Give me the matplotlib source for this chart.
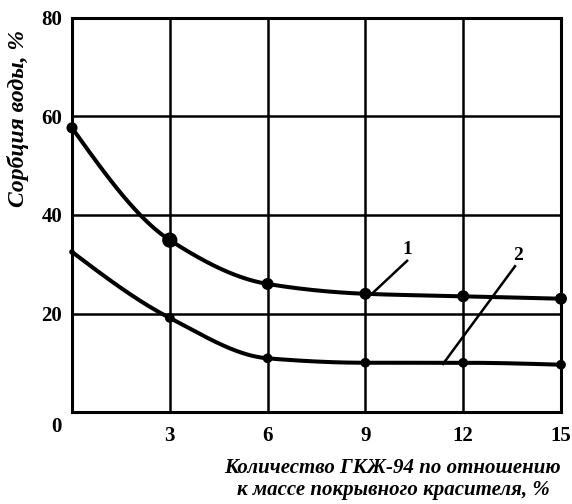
import numpy as np
import matplotlib.pyplot as plt

# data
x_pts = [0, 3, 6, 9, 12, 15]
curve1 = [57.7, 34.9, 26, 24, 23.5, 23]
curve2 = [32.5, 19.1, 10.9, 10, 10, 9.6]
x_ticks = [3, 6, 9, 12, 15]
y_ticks = [20, 40, 60, 80]


def pchip(x, y, xs):
    # monotone cubic, only for drawing a smooth line through the points
    x = np.asarray(x, float)
    y = np.asarray(y, float)
    h = np.diff(x)
    d = np.diff(y) / h
    m = np.zeros_like(y)
    for k in range(1, len(x) - 1):
        if d[k - 1] * d[k] > 0:
            w1 = 2 * h[k] + h[k - 1]
            w2 = h[k] + 2 * h[k - 1]
            m[k] = (w1 + w2) / (w1 / d[k - 1] + w2 / d[k])
    m[0] = d[0] * 1.5 - m[1] * 0.5
    m[-1] = d[-1] * 1.5 - m[-2] * 0.5
    idx = np.clip(np.searchsorted(x, xs) - 1, 0, len(x) - 2)
    t = (xs - x[idx]) / h[idx]
    h00 = 2 * t**3 - 3 * t**2 + 1
    h10 = t**3 - 2 * t**2 + t
    h01 = -2 * t**3 + 3 * t**2
    h11 = t**3 - t**2
    return h00 * y[idx] + h10 * h[idx] * m[idx] + h01 * y[idx + 1] + h11 * h[idx] * m[idx + 1]


plt.rcParams['font.family'] = 'Liberation Serif'
fig = plt.figure(figsize=(5.72, 5.04), dpi=100)
ax = fig.add_axes([72 / 572, 1 - 412 / 504, 489 / 572, 394 / 504])

xs = np.linspace(0, 15, 300)
ax.plot(xs, pchip(x_pts, curve1, xs), color='black', lw=2.9, zorder=3,
        solid_capstyle='round')
ax.plot(xs, pchip(x_pts, curve2, xs), color='black', lw=2.9, zorder=3,
        solid_capstyle='round')
sizes1 = [8, 11, 8.6, 8.6, 8.6, 8.6]
sizes2 = [4, 7, 7, 7, 7, 7]
ax.scatter(x_pts, curve1, s=[v**2 for v in sizes1], color='black', zorder=4,
           clip_on=False, linewidths=0)
ax.scatter(x_pts, curve2, s=[v**2 for v in sizes2], color='black', zorder=4,
           clip_on=False, linewidths=0)

# leader lines to curve numbers
ax.plot([9.23, 10.28], [24.2, 30.7], color='black', lw=1.8)
ax.text(10.28, 32.9, '1', ha='center', va='center', fontsize=14, fontweight='bold')
ax.plot([11.38, 13.59], [9.75, 29.6], color='black', lw=1.8)
ax.text(13.68, 31.8, '2', ha='center', va='center', fontsize=14, fontweight='bold')

ax.set_xlim(0, 15)
ax.set_ylim(0, 80)
ax.set_xticks(x_ticks)
ax.set_yticks(y_ticks)
ax.set_xticklabels([str(v) for v in x_ticks], fontsize=15, fontweight='bold')
ax.set_yticklabels([str(v) for v in y_ticks], fontsize=15, fontweight='bold')
ax.tick_params(axis='y', length=0, pad=7)
ax.tick_params(axis='x', length=0, pad=10)
ax.grid(True, color='black', lw=1.8)
for sp in ax.spines.values():
    sp.set_linewidth(2.2)
ax.text(-0.022, -0.012, '0', transform=ax.transAxes, ha='right', va='top',
        fontsize=15, fontweight='bold')

ax.text(-0.11, 0.745, 'Сорбция воды, %', transform=ax.transAxes, rotation=90,
        ha='center', va='center', fontsize=17, fontweight='bold', style='italic')
fig.text(0.687, 0.0496, 'Количество ГКЖ-94 по отношению\nк массе покрывного красителя, %',
         ha='center', va='center', fontsize=15, fontweight='bold', style='italic',
         linespacing=1.1)

fig.savefig('out.png', dpi=100)
